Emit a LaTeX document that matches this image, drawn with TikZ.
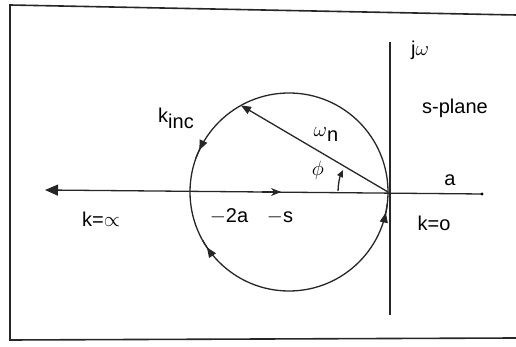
\documentclass[tikz,border=0pt]{standalone}
\usepackage{fontspec}
\setmainfont{Liberation Sans}
\usetikzlibrary{arrows.meta,decorations.markings,calc}
\begin{document}
\begin{tikzpicture}[x=1pt,y=1pt,
  lbl/.style={inner sep=0pt,font=\fontsize{20}{22}\selectfont},
  ln/.style={line width=1.3pt,black!85},
  tip/.style={-{Triangle[length=10pt,width=8pt]}},
  midtip/.style={postaction={decorate},decoration={markings,mark=at position 0.5 with {\arrow{Triangle[length=10pt,width=8pt]}}}}]
\useasboundingbox (0,0) rectangle (516,347);
% frame
\draw[line width=1.6pt,black!85] (516,332) -- (10,342) -- (10,7) -- (516,9);
% coordinates
\coordinate (C) at (289,155);
\coordinate (O) at (388,155);
\coordinate (Lft) at (45,157);
\coordinate (Rt) at (482,153);
\coordinate (Top) at (390,305);
\coordinate (Bot) at (390,32);
\coordinate (P) at ($(C)+(119:99)$);
% axes
\draw[ln] (Top) -- (Bot);
\draw[ln,-{Triangle[length=13pt,width=11pt]}] (Rt) -- (Lft);
\fill (Rt) circle (1.6pt);
% circle
\draw[ln] (C) circle (99);
% arrows on circle
\draw[ln,midtip] ($(C)+(150:99)$) arc (150:160:99);
\draw[ln,midtip] ($(C)+(219:99)$) arc (219:209:99);
\draw[ln,midtip] ($(C)+(-17:99)$) arc (-17:-7:99);
% chord
\draw[ln,tip] (O) -- (P);
% phi arrow
\draw[ln,-{Triangle[length=7pt,width=6pt]}] ($(O)+(179:50)$) arc (179:154:50);
% arrow on real axis
\draw[ln,-{Stealth[length=10pt,width=8pt]}] (262,155) -- (281,155);
% labels
\node[lbl] (jw) at (420,297) {j$\omega$};
\node[lbl] (sp) at (455,239) {s-plane};
\node[lbl] (kinc) at (176,229) {k\raisebox{-6pt}{inc}};
\node[lbl] (wn) at (326,212) {$\omega$\raisebox{-5pt}{n}};
\node[lbl] (phi) at (318,177) {$\phi$};
\node[lbl] (a) at (450,167) {a};
\node[lbl] (kinf) at (101,128) {k=$\propto$};
\node[lbl] (m2a) at (229,131) {$-$2a};
\node[lbl] (ms) at (280,130) {$-$s};
\node[lbl] (k0) at (434,124) {k=o};
\end{tikzpicture}
\end{document}
